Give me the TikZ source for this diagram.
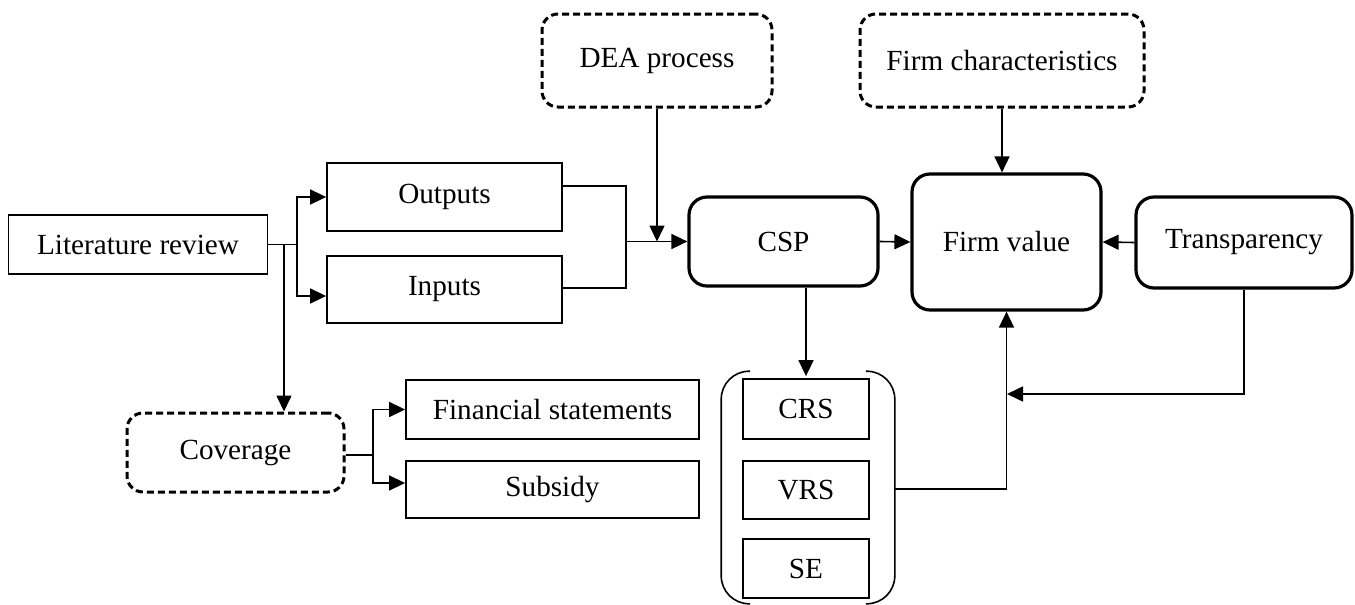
\documentclass[tikz,border=0pt]{standalone}
\usepackage{fontspec}
\setmainfont{Liberation Serif}
\usetikzlibrary{arrows.meta}
\begin{document}
\begin{tikzpicture}[x=0.5pt,y=-0.5pt,
  font=\fontsize{14.6}{16}\selectfont,
  line width=0.8pt,
  plain/.style={draw, line width=0.9pt, minimum width=#1*0.5pt, inner sep=0pt},
  bold/.style={draw, line width=1.6pt, rounded corners=9pt, minimum width=#1*0.5pt, inner sep=0pt},
  dash box/.style={draw, line width=1.5pt, dash pattern=on 3.5pt off 2pt, rounded corners=8pt, minimum width=#1*0.5pt, inner sep=0pt},
  arr/.style={-{Triangle[length=8pt,width=7.5pt]}, line width=0.8pt}]
\useasboundingbox (0,0) rectangle (1355,605);

% inputs to the efficiency stage
\node[plain=259, minimum height=29.5pt] (lit) at (138,244.5) {Literature review};
\node[plain=235, minimum height=34pt] (out) at (444.5,197) {Outputs};
\node[plain=235, minimum height=33.5pt] (inp) at (444.5,289.5) {Inputs};
\node[dash box=230, minimum height=46.5pt] (dea) at (657,60.5) {DEA process};
\node[dash box=284, minimum height=46.5pt] (fc) at (1002,60.5) {Firm characteristics};

% core constructs
\node[bold=189, minimum height=44.5pt] (csp) at (783.5,241.5) {CSP};
\node[bold=189, minimum height=68pt] (fv) at (1006.5,242) {Firm value};
\node[bold=216, minimum height=45.5pt] (tr) at (1244,242.5) {Transparency};

% DEA scale measures
\node[plain=126, minimum height=30pt] (crs) at (806,409) {CRS};
\node[plain=126, minimum height=29pt] (vrs) at (806,490) {VRS};
\node[plain=126, minimum height=29.5pt] (se) at (806,568.5) {SE};
\node[minimum width=86pt, minimum height=115.5pt, inner sep=0pt] (grp) at (808,487.5) {};
\draw[rounded corners=14pt] ([xshift=14.5pt]grp.north west) -- (grp.north west) -- (grp.south west) -- ([xshift=14.5pt]grp.south west);
\draw[rounded corners=14pt] ([xshift=-14.5pt]grp.north east) -- (grp.north east) -- (grp.south east) -- ([xshift=-14.5pt]grp.south east);

% data coverage
\node[dash box=217, minimum height=39.5pt] (cov) at (235.5,452.5) {Coverage};
\node[plain=293, minimum height=29.5pt] (fs) at (552.5,409.5) {Financial statements};
\node[plain=293, minimum height=28.5pt] (sub) at (552.5,489.5) {Subsidy};

% junction points
\coordinate (jl) at (297,244.5);
\coordinate (jc) at (284,244.5);
\coordinate (jm) at (626,241.5);
\coordinate (jcov) at (373,455);
\coordinate (jv) at (1007,394);

% connectors
\draw (lit.east) -- (jl);
\draw[arr] (jl) |- (out.west);
\draw[arr] (jl) |- ([yshift=-3.25pt]inp.west);
\draw[arr] (jc) -- (jc |- cov.north);
\draw ([yshift=5.5pt]out.east) -| (jm);
\draw ([yshift=0.75pt]inp.east) -| (jm);
\draw[arr] (jm) -- (csp.west);
\draw[arr] (dea.south) -- (dea.south |- jm);
\draw[arr] (csp.east) -- (fv.west);
\draw[arr] (fc.south) -- (fc.south |- fv.north);
\draw[arr] (tr.west) -- (fv.east);
\draw[arr] (tr.south) |- (jv);
\draw[arr] ([yshift=-0.75pt]grp.east) -| (fv.south);
\draw[arr] (crs.north |- csp.south) -- ([yshift=1pt]crs.north);
\draw (cov.east |- jcov) -- (jcov);
\draw[arr] (jcov) |- (fs.west);
\draw[arr] (jcov) |- ([yshift=3.25pt]sub.west);
\end{tikzpicture}
\end{document}
